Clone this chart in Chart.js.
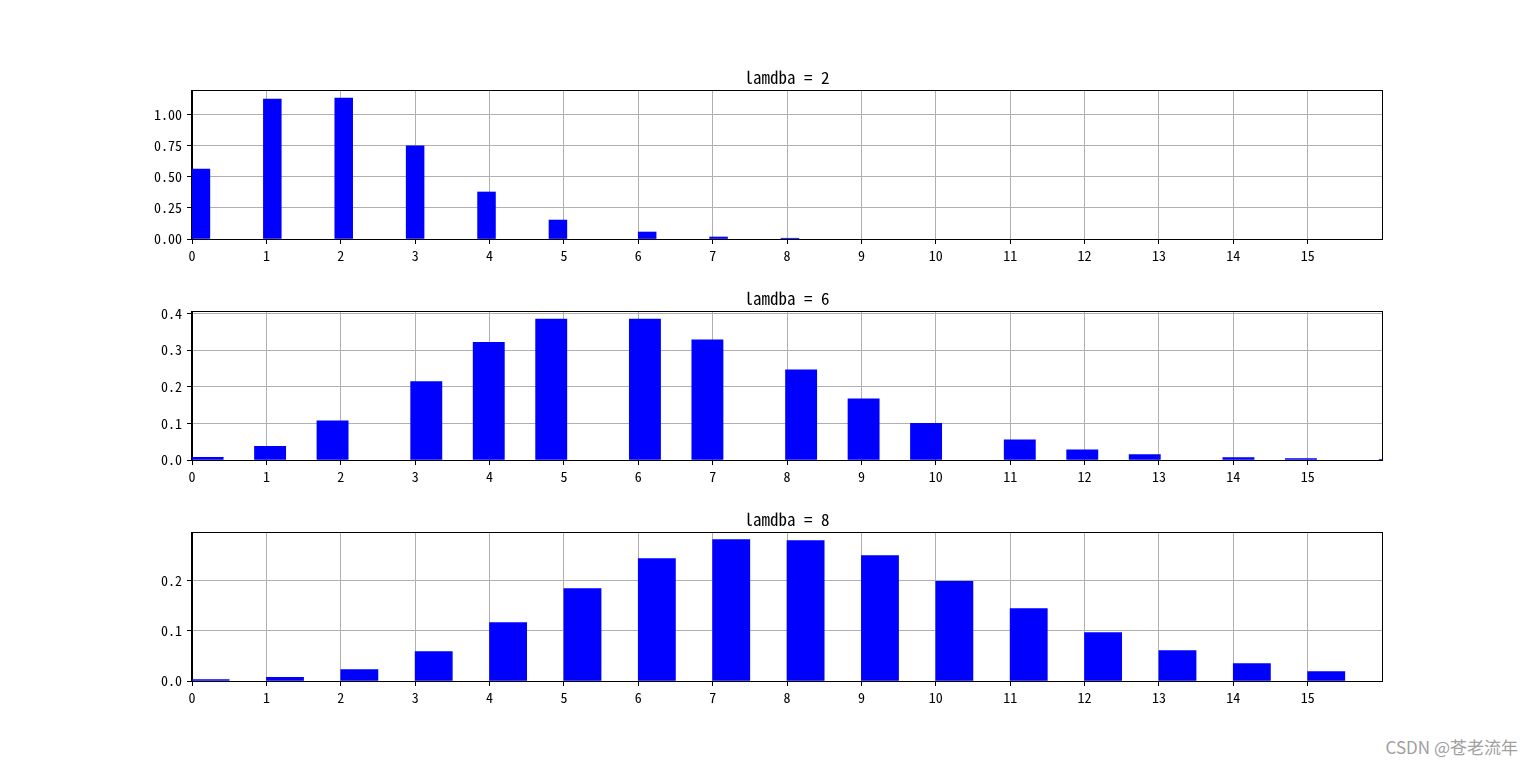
<!DOCTYPE html>
<html>
<head>
<meta charset="utf-8">
<title>lamdba histograms</title>
<script src="https://cdn.jsdelivr.net/npm/chart.js@4.4.0/dist/chart.umd.min.js"></script>
<style>
  html, body { margin: 0; padding: 0; background: #fff; }
  body { width: 1536px; height: 765px; position: relative; overflow: hidden; }
  .panel { position: absolute; left: 0; width: 1536px; height: 204px; }
  #mark { position: absolute; right: 18px; top: 734px; font: 17px "Noto Sans CJK SC", sans-serif; color: #a0a0a0; }
</style>
</head>
<body>
<div class="panel" style="top:65px"><canvas id="chart0"></canvas></div>
<div class="panel" style="top:286px"><canvas id="chart1"></canvas></div>
<div class="panel" style="top:507px"><canvas id="chart2"></canvas></div>
<div id="mark">CSDN @苍老流年</div>

<script>
// values (density histograms of Poisson samples)
const lambdas = [2, 6, 8];

const outcomes2 = [0, 1, 2, 3, 4, 5, 6, 7, 8];
const density2 = [0.561, 1.123, 1.131, 0.748, 0.377, 0.152, 0.056, 0.016, 0.006];

const outcomes6 = [0, 1, 2, 3, 4, 5, 6, 7, 8, 9, 10, 11, 12, 13, 14, 15, 16];
const density6 = [0.007, 0.037, 0.107, 0.214, 0.321, 0.385, 0.385, 0.328, 0.246, 0.167, 0.100, 0.055, 0.028, 0.0145, 0.0063, 0.0036, 0.002];

const outcomes8 = [0, 1, 2, 3, 4, 5, 6, 7, 8, 9, 10, 11, 12, 13, 14, 15];
const density8 = [0.0026, 0.0073, 0.0227, 0.0587, 0.1167, 0.1847, 0.2447, 0.2827, 0.2807, 0.2507, 0.1993, 0.1447, 0.0967, 0.0607, 0.0347, 0.0187];

const binWidths = [0.24, 0.42, 0.5];
const xTicks = [0, 1, 2, 3, 4, 5, 6, 7, 8, 9, 10, 11, 12, 13, 14, 15];
const xMax = 16;
const yMaxes = [1.187, 0.404, 0.296];
const ySteps = [0.25, 0.1, 0.1];
const yDecimals = [2, 1, 1];

const outcomes = [outcomes2, outcomes6, outcomes8];
const densities = [density2, density6, density8];

Chart.defaults.font.family = '"Noto Sans Mono CJK SC", "Noto Sans CJK SC", "DejaVu Sans", sans-serif';
Chart.defaults.font.size = 14;
Chart.defaults.color = '#000';

// box around the plot area, like matplotlib spines
const framePlugin = {
    id: 'frame',
    afterDraw(chart) {
        const a = chart.chartArea;
        const ctx = chart.ctx;
        ctx.save();
        ctx.strokeStyle = '#000';
        ctx.lineWidth = 1;
        ctx.strokeRect(Math.round(a.left) - 0.5, Math.round(a.top) - 0.5,
            Math.round(a.right - a.left) + 1, Math.round(a.bottom - a.top) + 1);
        ctx.restore();
    }
};

function makeChart(i) {
    const w = binWidths[i];
    // each bar sits in its histogram bin [k*w, (k+1)*w]
    const points = outcomes[i].map((n, j) => {
        const left = Math.floor(n / w + 1e-9) * w;
        return { x: left + w / 2, y: densities[i][j] };
    });

    new Chart(document.getElementById('chart' + i), {
        type: 'bar',
        data: {
            datasets: [{
                data: points,
                backgroundColor: '#0000ff',
                borderWidth: 0,
                barThickness: ctx => {
                    const x = ctx.chart.scales.x;
                    return x.getPixelForValue(w) - x.getPixelForValue(0);
                }
            }]
        },
        plugins: [framePlugin],
        options: {
            responsive: true,
            maintainAspectRatio: false,
            animation: false,
            layout: {
                padding: { left: 132, right: 94, top: 0, bottom: 0 }
            },
            scales: {
                x: {
                    type: 'linear',
                    min: 0,
                    max: xMax,
                    offset: false,
                    z: 1,
                    afterBuildTicks: s => { s.ticks = xTicks.map(v => ({ value: v })); },
                    afterFit: s => { s.height = 30; },
                    ticks: { padding: 3, maxRotation: 0, autoSkip: false },
                    grid: { offset: false, color: '#b0b0b0', lineWidth: 1, tickLength: 5, tickColor: '#000' },
                    border: { display: true, color: '#000' }
                },
                y: {
                    min: 0,
                    max: yMaxes[i],
                    z: 1,
                    afterFit: s => { s.width = 60; },
                    ticks: {
                        stepSize: ySteps[i],
                        includeBounds: false,
                        padding: 5,
                        callback: v => v.toFixed(yDecimals[i])
                    },
                    grid: { color: '#b0b0b0', lineWidth: 1, tickLength: 5, tickColor: '#000' },
                    border: { display: true, color: '#000' }
                },
                // empty spacer on the right so the title centres over the plot
                yRight: {
                    position: 'right',
                    min: 0,
                    max: yMaxes[i],
                    afterFit: s => { s.width = 60; },
                    ticks: { display: false },
                    grid: { display: false },
                    border: { display: false }
                }
            },
            plugins: {
                legend: { display: false },
                tooltip: { enabled: false },
                title: {
                    display: true,
                    text: 'lamdba = ' + lambdas[i],
                    color: '#000',
                    font: { size: 17, weight: 'normal', lineHeight: '20px' },
                    padding: { top: 3, bottom: 3 }
                }
            }
        }
    });
}

[0, 1, 2].forEach(makeChart);
</script>
</body>
</html>
